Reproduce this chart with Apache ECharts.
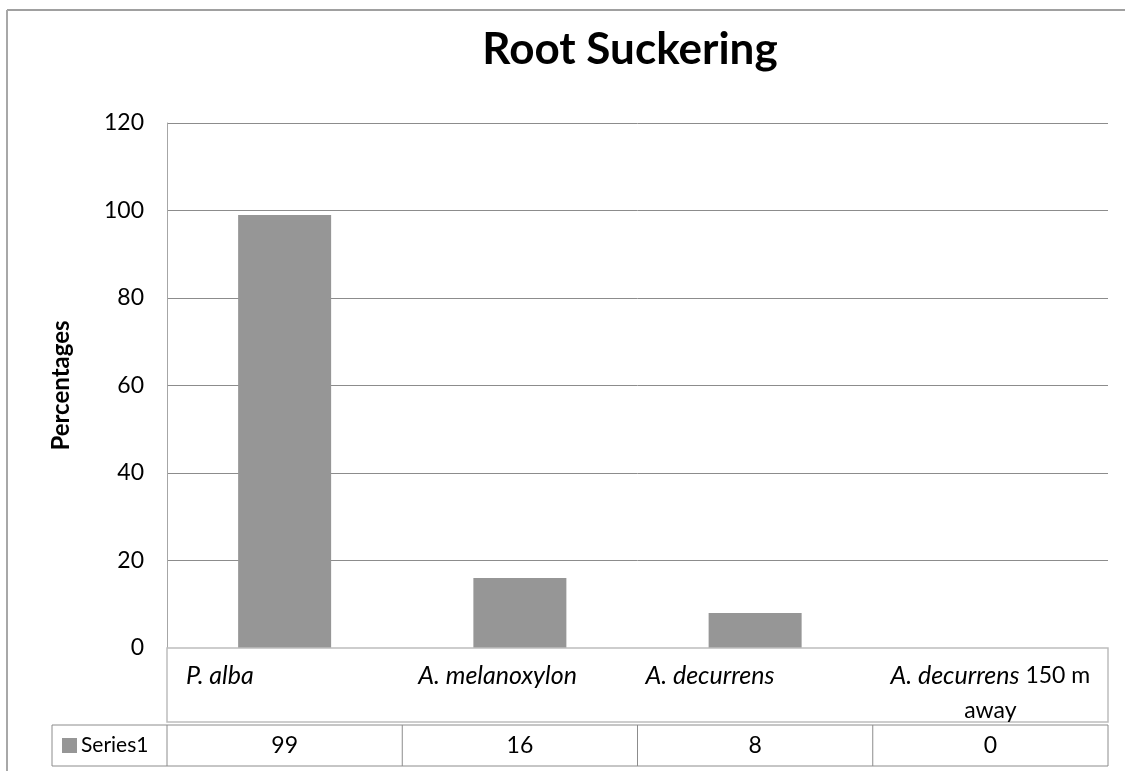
<!DOCTYPE html>
<html>
<head>
<meta charset="utf-8">
<title>Root Suckering</title>
<script src="https://cdn.jsdelivr.net/npm/echarts@6/dist/echarts.min.js"></script>
<style>
  html, body { margin: 0; padding: 0; background: #fff; }
  #chart { width: 1125px; height: 771px; }
</style>
</head>
<body>
<div id="chart"></div>
<script>
// Chart content
const chartTitle = 'Root Suckering';
const yAxisTitle = 'Percentages';
const seriesName = 'Series1';
const categories = ['P. alba', 'A. melanoxylon', 'A. decurrens', 'A. decurrens 150 m\naway'];
const values = [99, 16, 8, 0];
const yTicks = [0, 20, 40, 60, 80, 100, 120];

// Look and layout
const FONT = 'Lato, "Open Sans", sans-serif';
const BAR_COLOR = '#969696';
const GRID = { left: 167, right: 17, top: 123, bottom: 123 };
const LABEL_INSET = [19, 16, 8, null]; // null = centred in its cell

const chart = echarts.init(document.getElementById('chart'), null, { renderer: 'canvas' });

chart.setOption({
  backgroundColor: '#fff',
  animation: false,
  title: {
    text: chartTitle,
    left: 625,
    top: 23,
    textAlign: 'center',
    textStyle: { fontFamily: FONT, fontWeight: 'bold', fontSize: 44, color: '#000' }
  },
  grid: GRID,
  xAxis: {
    type: 'category',
    data: categories,
    axisLine: { show: false },
    axisTick: { show: false },
    axisLabel: { show: false }
  },
  yAxis: {
    type: 'value',
    min: yTicks[0],
    max: yTicks[yTicks.length - 1],
    interval: yTicks[1] - yTicks[0],
    name: yAxisTitle,
    nameLocation: 'middle',
    nameRotate: 90,
    nameGap: 94,
    nameTextStyle: { fontFamily: FONT, fontWeight: 'bold', fontSize: 24, color: '#000' },
    axisLine: { show: true, lineStyle: { color: '#a6a6a6', width: 1 } },
    axisTick: { show: false },
    axisLabel: { fontFamily: FONT, fontSize: 23, color: '#000', margin: 23 },
    splitLine: { lineStyle: { color: '#8c8c8c', width: 1 } }
  },
  series: [{
    name: seriesName,
    type: 'bar',
    data: values,
    barWidth: 93,
    itemStyle: { color: BAR_COLOR }
  }]
});

// Category label box and data table under the plot, placed from the axis scales
function drawTable() {
  const x0 = chart.convertToPixel({ xAxisIndex: 0 }, 0);
  const x1 = chart.convertToPixel({ xAxisIndex: 0 }, 1);
  const band = x1 - x0;
  const yZero = chart.convertToPixel({ yAxisIndex: 0 }, 0);
  const plotLeft = x0 - band / 2;
  const plotRight = plotLeft + band * categories.length;

  const boxTop = yZero;
  const boxBottom = yZero + 74;
  const rowTop = boxBottom + 3;
  const rowBottom = rowTop + 41;
  const legendLeft = 52;

  const els = [];
  // outer chart frame (top and left edges)
  els.push({ type: 'line', shape: { x1: 7, y1: 10, x2: 1125, y2: 10 }, style: { stroke: '#a0a0a0', lineWidth: 2 } });
  els.push({ type: 'line', shape: { x1: 7, y1: 10, x2: 7, y2: 771 }, style: { stroke: '#a8a8a8', lineWidth: 2 } });

  // category label box
  els.push({ type: 'rect', shape: { x: plotLeft, y: boxTop, width: plotRight - plotLeft, height: boxBottom - boxTop },
    style: { fill: '#fff', stroke: '#bdbdbd', lineWidth: 1.5 }, z: 10 });

  // data row
  els.push({ type: 'rect', shape: { x: legendLeft, y: rowTop, width: plotRight - legendLeft, height: rowBottom - rowTop },
    style: { fill: '#fff', stroke: '#8c8c8c', lineWidth: 1 }, z: 10 });
  for (let i = 0; i < categories.length; i++) {
    const cx = plotLeft + band * i;
    els.push({ type: 'line', shape: { x1: cx, y1: rowTop, x2: cx, y2: rowBottom }, style: { stroke: '#8c8c8c', lineWidth: 1 }, z: 11 });
  }

  // legend key in the first cell
  els.push({ type: 'rect', shape: { x: 62, y: (rowTop + rowBottom) / 2 - 7.5, width: 15, height: 15 }, style: { fill: BAR_COLOR }, z: 12 });
  els.push({ type: 'text', x: 81, y: (rowTop + rowBottom) / 2, z: 12,
    style: { text: seriesName, fontFamily: FONT, fontSize: 21, fill: '#000', align: 'left', verticalAlign: 'middle' } });

  categories.forEach((name, i) => {
    const cellLeft = plotLeft + band * i;
    // species name in italics, any trailing words upright
    const lines = name.split('\n').map((line, li) => {
      if (li > 0) return '{n|' + line + '}';
      const m = line.match(/^(\S+\s\S+)(.*)$/);
      return m ? '{i|' + m[1] + '}' + (m[2] ? '{n|' + m[2] + '}' : '') : '{i|' + line + '}';
    });
    const inset = LABEL_INSET[i];
    els.push({
      type: 'text', z: 12,
      x: inset == null ? cellLeft + band / 2 : cellLeft + inset,
      y: boxTop + 10,
      style: {
        text: lines.join('\n'),
        align: inset == null ? 'center' : 'left',
        verticalAlign: 'top',
        rich: {
          i: { fontFamily: FONT, fontStyle: 'italic', fontSize: 25, fill: '#000', lineHeight: 35 },
          n: { fontFamily: FONT, fontSize: 23, fill: '#000', lineHeight: 35 }
        }
      }
    });
    // value cell
    els.push({
      type: 'text', z: 12,
      x: cellLeft + band / 2,
      y: (rowTop + rowBottom) / 2,
      style: { text: String(values[i]), fontFamily: FONT, fontSize: 23, fill: '#000', align: 'center', verticalAlign: 'middle' }
    });
  });

  chart.setOption({ graphic: { elements: els } });
}

drawTable();
</script>
</body>
</html>
